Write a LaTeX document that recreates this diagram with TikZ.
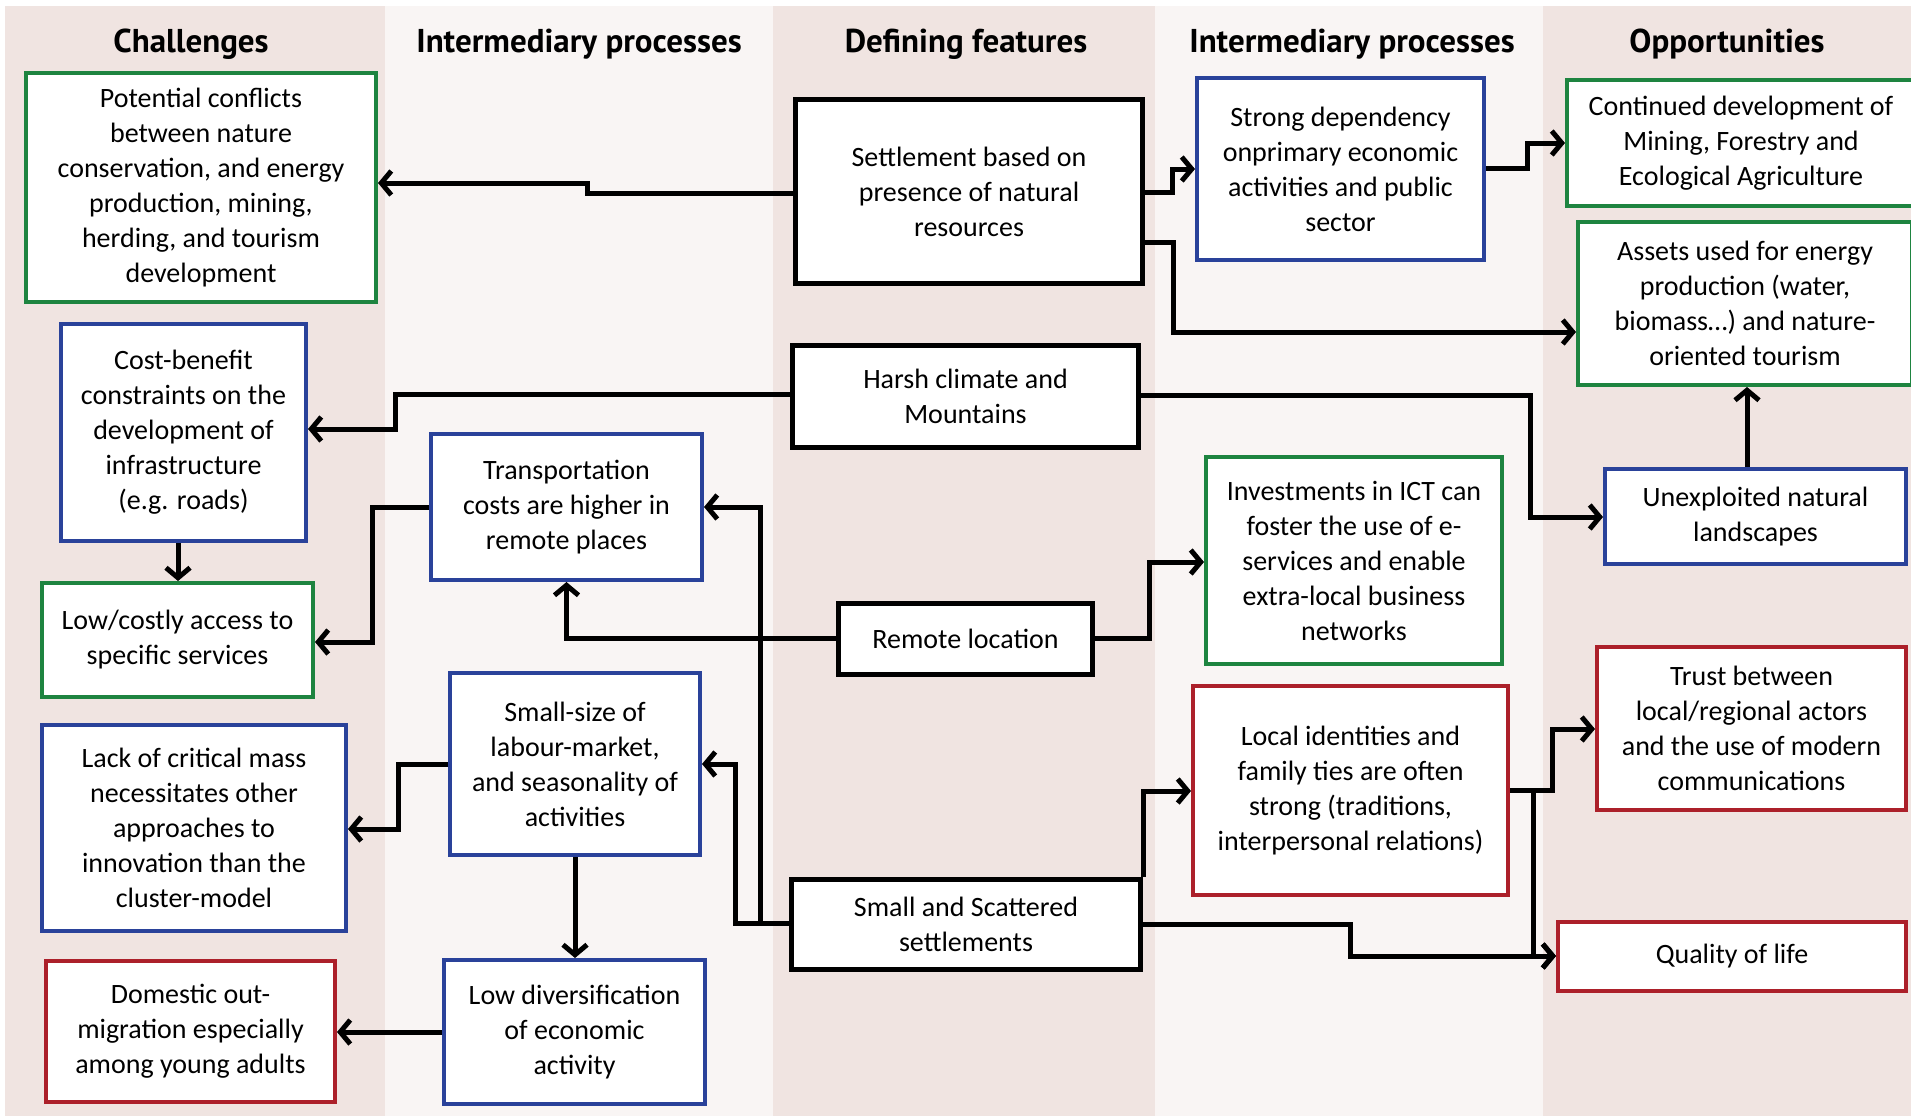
\documentclass[tikz,border=0pt]{standalone}
\usepackage{fontspec}
\setmainfont{Carlito}
\newfontfamily\hdrfont{PT Sans}
\usetikzlibrary{arrows.meta}
\definecolor{bgpink}{RGB}{240,228,225}
\definecolor{bglight}{RGB}{249,245,244}
\definecolor{bxgreen}{RGB}{30,132,64}
\definecolor{bxblue}{RGB}{42,66,154}
\definecolor{bxred}{RGB}{172,32,42}
\tikzset{
 box/.style={draw, fill=white, line width=4pt, align=center, inner sep=2pt, font=\fontsize{28}{35}\selectfont, text=black},
 boxg/.style={box, draw=bxgreen},
 boxb/.style={box, draw=bxblue},
 boxr/.style={box, draw=bxred},
 boxk/.style={box, draw=black, line width=5.5pt},
 conn/.style={line width=5pt, -{Straight Barb[length=10pt,width=24pt]}, line join=miter},
 hdr/.style={font=\hdrfont\bfseries\fontsize{33}{38}\selectfont}
}
\begin{document}
\begin{tikzpicture}[x=1pt,y=-1pt]
\useasboundingbox (0,0) rectangle (1911,1116);
\clip (0,0) rectangle (1911,1116);
\fill[white] (0,0) rectangle (1911,1116);
% columns
\fill[bgpink] (5,6) rectangle (385,1116);
\fill[bglight] (385,6) rectangle (773,1116);
\fill[bgpink] (773,6) rectangle (1155,1116);
\fill[bglight] (1155,6) rectangle (1543,1116);
\fill[bgpink] (1543,6) rectangle (1911,1116);
% headers
\node[hdr] (h1) at (191,44) {Challenges};
\node[hdr] (h2) at (579,44) {Intermediary processes};
\node[hdr] (h3) at (966,44) {Defining features};
\node[hdr] (h4) at (1352,44) {Intermediary processes};
\node[hdr] (h5) at (1727,44) {Opportunities};
% challenges
\node[boxg, minimum width=350, minimum height=229] (pc) at (201,187.5) {Potential conflicts\\between nature\\conservation, and energy\\production, mining,\\herding, and tourism\\development};
\node[boxb, minimum width=245, minimum height=217] (cb) at (183.5,432.5) {Cost-benefit\\constraints on the\\development of\\infrastructure\\(e.g. roads)};
\node[boxg, minimum width=271, minimum height=114] (lc) at (177.5,640) {Low/costly access to\\specific services};
\node[boxb, minimum width=304, minimum height=206] (lm) at (194,828) {Lack of critical mass\\necessitates other\\approaches to\\innovation than the\\cluster-model};
\node[boxr, minimum width=289, minimum height=141] (dm) at (190.5,1031.5) {Domestic out-\\migration especially\\among young adults};
% intermediary left
\node[boxb, minimum width=271, minimum height=146] (tc) at (566.5,507) {Transportation\\costs are higher in\\remote places};
\node[boxb, minimum width=250, minimum height=182] (ss) at (575,764) {Small-size of\\labour-market,\\and seasonality of\\activities};
\node[boxb, minimum width=261, minimum height=144] (ld) at (574.5,1032) {Low diversification\\of economic\\activity};
% defining features
\node[boxk, minimum width=347, minimum height=184] (st) at (969,191.5) {Settlement based on\\presence of natural\\resources};
\node[boxk, minimum width=346, minimum height=102] (hc) at (965.5,396.5) {Harsh climate and\\Mountains};
\node[boxk, minimum width=254, minimum height=71] (rl) at (965.5,639) {Remote location};
\node[boxk, minimum width=349, minimum height=90] (sc) at (966,924.5) {Small and Scattered\\settlements};
% intermediary right
\node[boxb, minimum width=287, minimum height=182] (sd) at (1340.5,169) {Strong dependency\\onprimary economic\\activities and public\\sector};
\node[boxg, minimum width=296, minimum height=207] (ict) at (1354,560.5) {Investments in ICT can\\foster the use of e-\\services and enable\\extra-local business\\networks};
\node[boxr, minimum width=315, minimum height=209] (li) at (1350.5,790.5) {Local identities and\\family ties are often\\strong (traditions,\\interpersonal relations)};
% opportunities
\node[boxg, minimum width=348, minimum height=126] (cd) at (1741,143) {Continued development of\\Mining, Forestry and\\Ecological Agriculture};
\node[boxg, minimum width=334, minimum height=163] (as) at (1745,303.5) {Assets used for energy\\production (water,\\biomass…) and nature-\\oriented tourism};
\node[boxb, minimum width=301, minimum height=95] (un) at (1755.5,516.5) {Unexploited natural\\landscapes};
\node[boxr, minimum width=309, minimum height=163] (tr) at (1751.5,728.5) {Trust between\\local/regional actors\\and the use of modern\\communications};
\node[boxr, minimum width=348, minimum height=69] (ql) at (1732,956.5) {Quality of life};
% connectors
\draw[conn] (st.west |- 0,193) -- (587,193) -- (587,183) -- (pc.east |- 0,183);
\draw[conn] (st.east |- 0,192) -- (1172,192) -- (1172,169) -- (sd.west |- 0,169);
\draw[conn] (sd.east |- 0,168) -- (1527,168) -- (1527,143) -- (cd.west |- 0,143);
\draw[conn] (st.east |- 0,242) -- (1173,242) -- (1173,332) -- (as.west |- 0,332);
\draw[conn] (hc.west |- 0,394) -- (395,394) -- (395,429) -- (cb.east |- 0,429);
\draw[conn] (hc.east |- 0,395) -- (1530,395) -- (1530,517) -- (un.west |- 0,517);
\draw[conn] (un.north -| 1747,0) -- (as.south -| 1747,0);
\draw[conn] (cb.south -| 178,0) -- (lc.north -| 178,0);
\draw[conn] (tc.west |- 0,507) -- (372,507) -- (372,642) -- (lc.east |- 0,642);
\draw[conn] (rl.west |- 0,638) -- (tc.south |- 0,638) -- (tc.south);
\draw[conn] (rl.east |- 0,638) -- (1149,638) -- (1149,562) -- (ict.west |- 0,562);
\draw[conn] (sc.west |- 0,923) -- (760,923) -- (760,507) -- (tc.east |- 0,507);
\draw[conn] (sc.west |- 0,923) -- (735,923) -- (735,764) -- (ss.east |- 0,764);
\draw[conn] (ss.west |- 0,764) -- (398,764) -- (398,829) -- (lm.east |- 0,829);
\draw[conn] (ss.south) -- (ld.north -| ss.south);
\draw[conn] (ld.west |- 0,1032) -- (dm.east |- 0,1032);
\draw[conn] (sc.north east) -- (sc.north east |- 0,791) -- (li.west |- 0,791);
\draw[conn] (sc.east |- 0,924) -- (1350,924) -- (1350,956) -- (ql.west |- 0,956);
\draw[conn] (li.east |- 0,790) -- (1552,790) -- (1552,729) -- (tr.west |- 0,729);
\draw[conn] (li.east |- 0,790) -- (1533,790) -- (1533,956) -- (ql.west |- 0,956);
\end{tikzpicture}
\end{document}
